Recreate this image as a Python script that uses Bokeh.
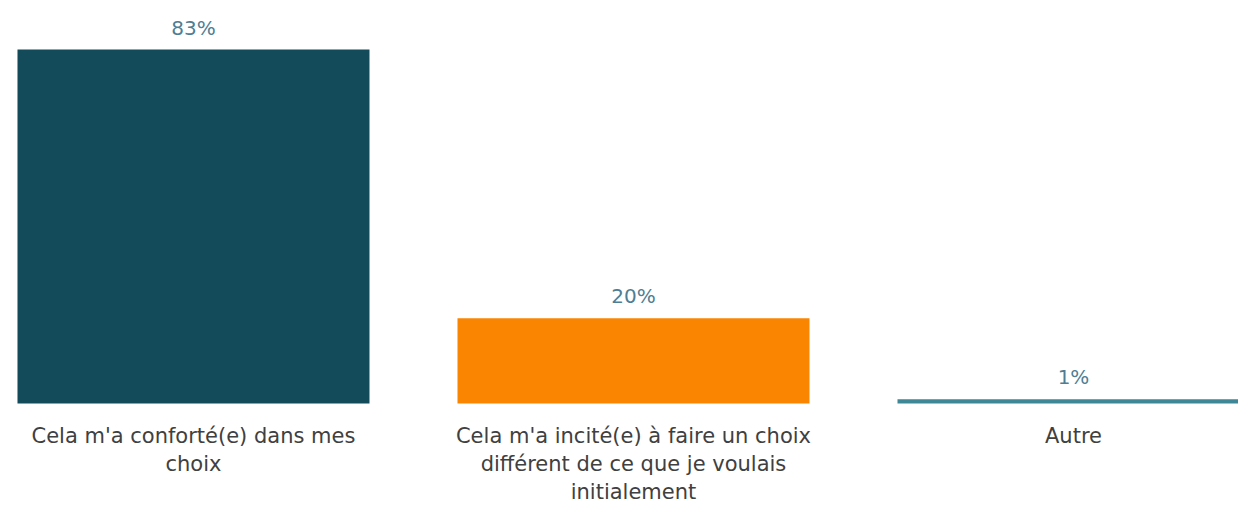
from bokeh.plotting import figure
from bokeh.models import ColumnDataSource, Range1d
from bokeh.core.properties import value
from bokeh.embed import file_html
from bokeh.resources import INLINE

categories = [
    "Cela m'a conforté(e) dans mes\nchoix",
    "Cela m'a incité(e) à faire un choix\ndifférent de ce que je voulais\ninitialement",
    "Autre",
]
values = [83, 20, 1]
labels = ["83%", "20%", "1%"]
colors = ["#144B5B", "#FA8500", "#3E8797"]

x = list(range(len(values)))
src = ColumnDataSource(dict(x=x, top=values, lab=labels, cat=categories, color=colors,
                            zero=[0] * len(values)))

p = figure(width=1238, height=505, output_backend="svg", toolbar_location=None,
           x_range=Range1d(-0.4386, 2.375), y_range=Range1d(-23.92, 94.49),
           min_border=0, min_border_left=0, min_border_right=0,
           min_border_top=0, min_border_bottom=0)
p.outline_line_color = None
p.xaxis.visible = False
p.yaxis.visible = False
p.xgrid.visible = False
p.ygrid.visible = False
p.background_fill_color = "white"
p.border_fill_color = "white"

p.vbar(x="x", top="top", bottom=0, width=0.8, fill_color="color", line_color=None, source=src)

p.text(x="x", y="top", text="lab", source=src, text_align="center", text_baseline="middle",
       y_offset=-22, text_font=value("DejaVu Sans"), text_font_size="20px", text_color="#4E7E94")

p.text(x="x", y="zero", text="cat", source=src, text_align="center", text_baseline="top",
       y_offset=21, text_font=value("DejaVu Sans"), text_font_size="21px", text_color="#404040",
       text_line_height=1.15)

open("out.html", "w").write(file_html(p, INLINE))
